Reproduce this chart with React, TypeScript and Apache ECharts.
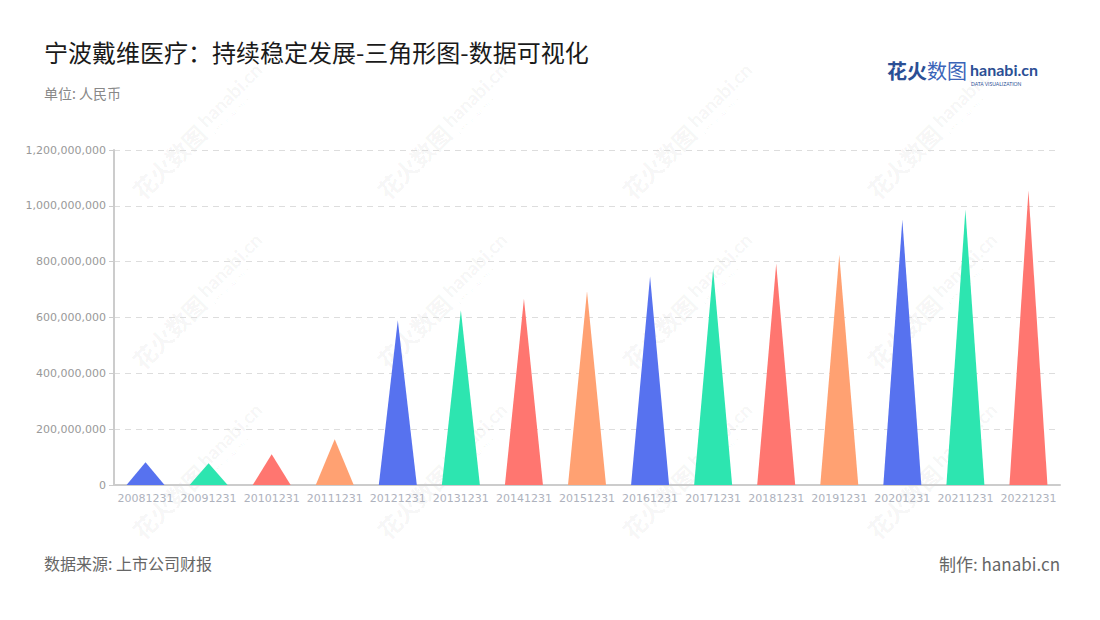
import React, { useEffect, useRef } from "react";
import * as echarts from "echarts";

const categories = [
  "20081231", "20091231", "20101231", "20111231", "20121231", "20131231", "20141231", "20151231",
  "20161231", "20171231", "20181231", "20191231", "20201231", "20211231", "20221231",
];
const values = [
  81000000, 78000000, 110000000, 164000000, 590000000, 626000000, 667000000, 694000000,
  747000000, 774000000, 792000000, 825000000, 950000000, 986000000, 1054000000,
];
const palette = ["#5772ef", "#2de5b0", "#ff7670", "#ffa172"];
const yTicks = [0, 200000000, 400000000, 600000000, 800000000, 1000000000, 1200000000];

const title = "宁波戴维医疗：持续稳定发展-三角形图-数据可视化";
const unitText = "单位: 人民币";
const sourceText = "数据来源: 上市公司财报";
const makerText = "制作: hanabi.cn";

const FONT = "'Noto Sans CJK SC', 'Noto Sans', sans-serif";
const WM = "rgba(0,0,0,0.05)";

function watermark(cx: number, cy: number) {
  return {
    type: "group",
    x: cx,
    y: cy,
    rotation: Math.PI / 4,
    silent: true,
    z: 100,
    children: [
      {
        type: "text",
        x: -62,
        y: 0,
        style: {
          text: "花火数图",
          fontSize: 23,
          fontWeight: "bold",
          fontFamily: FONT,
          fill: WM,
          verticalAlign: "middle",
          align: "left",
        },
      },
      {
        type: "text",
        x: 34,
        y: -4,
        style: {
          text: "hanabi.cn",
          fontSize: 19,
          fontWeight: "bold",
          fontFamily: "Lato, sans-serif",
          fill: WM,
          verticalAlign: "middle",
          align: "left",
        },
      },
      {
        type: "text",
        x: 36,
        y: 12,
        style: {
          text: "DATA VISUALIZATION",
          fontSize: 5,
          fontFamily: "Lato, sans-serif",
          fill: WM,
          verticalAlign: "middle",
          align: "left",
        },
      },
    ],
  };
}

export default function App() {
  const ref = useRef<HTMLDivElement>(null);

  useEffect(() => {
    if (!ref.current) return;
    const chart = echarts.init(ref.current, undefined, { renderer: "svg" });

    const marks: any[] = [];
    const xs = [180, 425, 670, 915];
    const ys = [150, 320, 490];
    for (const y of ys) for (const x of xs) marks.push(watermark(x, y));

    chart.setOption({
      animation: false,
      backgroundColor: "#ffffff",
      grid: { left: 114, right: 40, top: 150, bottom: 135 },
      xAxis: {
        type: "category",
        data: categories,
        axisLine: { lineStyle: { color: "#cccccc", width: 2 } },
        axisTick: { alignWithLabel: true, length: 5, lineStyle: { color: "#cccccc" } },
        axisLabel: {
          interval: 0,
          color: "#aeb2bd",
          fontSize: 11,
          margin: 8,
          fontFamily: "'DejaVu Sans', sans-serif",
        },
      },
      yAxis: {
        type: "value",
        min: 0,
        max: 1200000000,
        interval: 200000000,
        axisLine: { show: true, lineStyle: { color: "#cccccc", width: 2 } },
        axisTick: { show: true, length: 5, lineStyle: { color: "#cccccc" } },
        axisLabel: {
          color: "#999999",
          fontSize: 11,
          margin: 8,
          fontFamily: "'DejaVu Sans', sans-serif",
          formatter: (v: number) => (yTicks.includes(v) ? v.toLocaleString("en-US") : ""),
        },
        splitLine: { lineStyle: { color: "#dddddd", type: [6, 5] } },
      },
      series: [
        {
          type: "pictorialBar",
          symbol: "triangle",
          symbolSize: ["60%", "100%"],
          barCategoryGap: "0%",
          data: values.map((v, i) => ({
            value: v,
            itemStyle: { color: palette[i % palette.length] },
          })),
          z: 10,
        },
      ],
      graphic: [
        {
          type: "text",
          left: 44,
          top: 39,
          style: { text: title, fontSize: 24, fontFamily: FONT, fill: "#1a1a1a" },
        },
        {
          type: "text",
          left: 44,
          top: 86,
          style: { text: unitText, fontSize: 14, fontFamily: FONT, fill: "#888888" },
        },
        {
          type: "text",
          left: 44,
          top: 555,
          style: { text: sourceText, fontSize: 16, fontFamily: FONT, fill: "#666666" },
        },
        {
          type: "text",
          right: 40,
          top: 555,
          style: { text: makerText, fontSize: 17, fontFamily: FONT, fill: "#666666" },
        },
        {
          type: "group",
          right: 62,
          top: 60,
          children: [
            {
              type: "text",
              x: 0,
              y: 0,
              style: { text: "花火", fontSize: 20, fontWeight: "bold", fontFamily: FONT, fill: "#2b4f95" },
            },
            {
              type: "text",
              x: 40,
              y: 0,
              style: { text: "数图", fontSize: 20, fontFamily: FONT, fill: "#3b64b8" },
            },
            {
              type: "text",
              x: 83,
              y: 1,
              style: { text: "hanabi.cn", fontSize: 16, fontWeight: "bold", fontFamily: "Lato, sans-serif", fill: "#2b4f95" },
            },
            {
              type: "text",
              x: 84,
              y: 21,
              style: { text: "DATA VISUALIZATION", fontSize: 5, fontFamily: "Lato, sans-serif", fill: "#2b4f95" },
            },
          ],
        },
        ...marks,
      ],
    });

    return () => chart.dispose();
  }, []);

  return <div ref={ref} style={{ width: 1100, height: 620, margin: -8 }} />;
}
